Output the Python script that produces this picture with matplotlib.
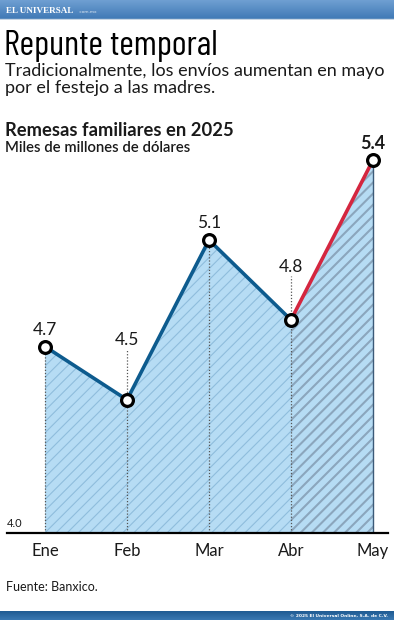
import numpy as np
import matplotlib
matplotlib.use('Agg')
import matplotlib.pyplot as plt

# datos
meses = ['Ene', 'Feb', 'Mar', 'Abr', 'May']
remesas = [4.7, 4.5, 5.1, 4.8, 5.4]
etiquetas = ['4.7', '4.5', '5.1', '4.8', '5.4']
y_min = 4.0

W, H = 394, 620
fig = plt.figure(figsize=(W / 100, H / 100), dpi=100)
fig.patch.set_facecolor('white')


def fx(px):
    return px / W


def fy(py):
    return 1 - py / H


SANS = ['Lato', 'DejaVu Sans']
TITULO = ['Barlow Condensed', 'Fira Sans Extra Condensed', 'DejaVu Sans']

# barra superior
ax_top = fig.add_axes([0, fy(20), 1, 20 / H])
grad = np.linspace(0, 1, 50).reshape(-1, 1)
cmap_top = matplotlib.colors.LinearSegmentedColormap.from_list('t', ['#6f9fd2', '#3d77b4'])
ax_top.imshow(grad, aspect='auto', cmap=cmap_top, extent=[0, 1, 0, 1])
ax_top.axhline(0.03, color='#c9d6e4', lw=1)
ax_top.set_axis_off()
fig.text(fx(6), fy(11), 'EL UNIVERSAL', color='white', fontsize=6.6, fontweight='bold',
         family='Liberation Serif', va='center')
fig.text(fx(79), fy(12), '.com.mx', color='#dce6f2', fontsize=3.2, va='center')

# barra inferior
ax_bot = fig.add_axes([0, 0, 1, 9 / H])
cmap_bot = matplotlib.colors.LinearSegmentedColormap.from_list('b', ['#1f5b92', '#3a78b2'])
ax_bot.imshow(grad, aspect='auto', cmap=cmap_bot, extent=[0, 1, 0, 1])
ax_bot.set_axis_off()
fig.text(fx(388), fy(615.5), '© 2025 El Universal Online, S.A. de C.V.', color='white',
         fontsize=3.2, ha='right', va='center', fontweight='bold')

# textos
fig.text(fx(4), fy(55), 'Repunte temporal', fontsize=25.5, family=TITULO,
         color='black', va='baseline')
fig.text(fx(5), fy(76), 'Tradicionalmente, los envíos aumentan en mayo', fontsize=13,
         family=SANS, color='#1a1a1a', va='baseline')
fig.text(fx(5), fy(93), 'por el festejo a las madres.', fontsize=13,
         family=SANS, color='#1a1a1a', va='baseline')
fig.text(fx(5), fy(136), 'Remesas familiares en 2025', fontsize=13.2, fontweight='bold',
         family=SANS, color='#1a1a1a', va='baseline')
fig.text(fx(5), fy(152), 'Miles de millones de dólares', fontsize=10.7, fontweight='semibold',
         family=SANS, color='#1a1a1a', va='baseline')
fig.text(fx(6), fy(591), 'Fuente: Banxico.', fontsize=9, family=SANS, color='#1a1a1a',
         va='baseline')

# grafica
px_unit = 266.4
ax = fig.add_axes([fx(7), fy(533), fx(388) - fx(7), 1.5 * px_unit / H])
x = np.arange(len(meses))
ax.set_xlim((7 - 45) / 82, (388 - 45) / 82)
ax.set_ylim(y_min, y_min + 1.5)

ax.fill_between(x[:4], remesas[:4], y_min, facecolor='#b6dcf4', edgecolor='#8fbddc',
                linewidth=0, hatch='///', hatch_linewidth=0.8)
ax.fill_between(x[3:], remesas[3:], y_min, facecolor='#b6dcf4', edgecolor='#8ba6bd',
                linewidth=0, hatch='///', hatch_linewidth=1.5)

# guias punteadas
desfase = [17, 60, 17, 53, 17]  # px entre punto y etiqueta
for i, v in enumerate(remesas[:4]):
    top = v
    if desfase[i] > 20:
        top = v + (desfase[i] - 9) / px_unit
    ax.plot([x[i], x[i]], [y_min, top], color='#555555', lw=0.9, ls=(0, (1, 1.5)), zorder=2)
ax.plot([x[4], x[4]], [y_min, remesas[4]], color='#3c5a78', lw=1, zorder=2)

ax.plot(x[:4], remesas[:4], color='#0d5b8e', lw=2.6, solid_capstyle='round', zorder=3)
ax.plot(x[3:], remesas[3:], color='#d4263f', lw=2.6, solid_capstyle='round', zorder=3)
ax.plot(x, remesas, ls='none', marker='o', ms=8.5, mfc='white', mec='black', mew=2.3, zorder=4)

for i, v in enumerate(remesas):
    ax.annotate(etiquetas[i], (x[i], v), xytext=(0, desfase[i] * 0.72), textcoords='offset points',
                ha='center', va='center', fontsize=12.5 if i < 4 else 13,
                fontweight='bold' if i == 4 else 'normal', family=SANS, color='#1a1a1a',
                zorder=5)

ax.annotate('4.0', (0, y_min), xycoords=('axes fraction', 'data'), xytext=(0, 3),
            textcoords='offset points', ha='left', va='bottom', fontsize=8, family=SANS,
            color='#1a1a1a')

for s in ['top', 'right', 'left']:
    ax.spines[s].set_visible(False)
ax.spines['bottom'].set_linewidth(1.6)
ax.spines['bottom'].set_zorder(6)
ax.set_yticks([])
ax.set_xticks(x)
ax.set_xticklabels(meses, fontsize=12, family=SANS, color='#1a1a1a')
ax.tick_params(axis='x', length=0, pad=7)
ax.patch.set_alpha(0)

fig.savefig('out.png', dpi=100)
